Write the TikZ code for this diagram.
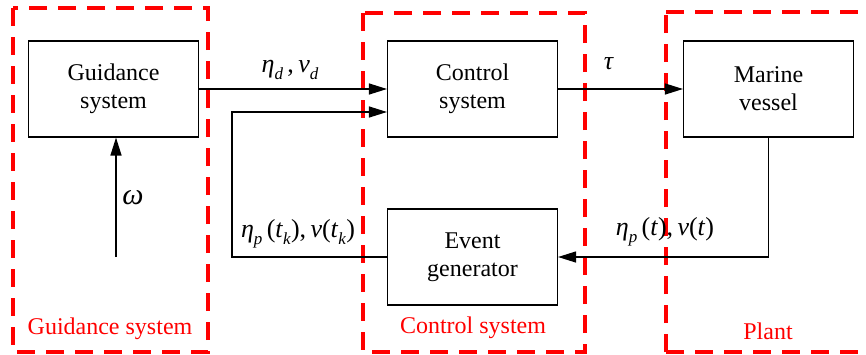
\documentclass[tikz,border=0pt]{standalone}
\usepackage{fontspec}
\setmainfont{Liberation Serif}
\newfontfamily\diagfont{Liberation Serif}
\usetikzlibrary{arrows.meta,calc}
\newcommand{\sym}[1]{\textit{#1}}
\newcommand{\sub}[1]{\raisebox{-0.28em}{\fontsize{17}{17}\selectfont\textit{#1}}}
\begin{document}
\begin{tikzpicture}[x=1pt,y=-1pt,
  block/.style={draw=black,line width=1.1pt,minimum width=170pt,minimum height=96pt,
    align=center,font=\diagfont\fontsize{24}{28}\selectfont,inner sep=0pt},
  group/.style={draw=red,line width=3.6pt,dash pattern=on 18pt off 11pt},
  grouplabel/.style={text=red,font=\diagfont\fontsize{24}{26}\selectfont,inner sep=0pt},
  sig/.style={font=\diagfont\fontsize{26}{28}\selectfont,inner sep=0pt},
  wire/.style={line width=1.3pt},
  arr/.style={wire,-{Triangle[length=18pt,width=11pt]}}]
\useasboundingbox (0,0) rectangle (866,354);
\fill[white] (0,0) rectangle (866,354);

% dashed subsystem frames
\draw[group] (13,8) rectangle (208,352);
\draw[group] (363,13) rectangle (585,352);
\draw[group] (666,12) -- (880,12);
\draw[group] (666,352) -- (666,12);
\draw[group] (666,352) -- (880,352);
\node[grouplabel] (lg) at (110,329) {Guidance system};
\node[grouplabel] (lc) at (473,328) {Control system};
\node[grouplabel] (lp) at (768,331) {Plant};

% blocks
\node[block] (guid) at (113.5,89) {Guidance\\system};
\node[block] (ctrl) at (472.5,89) {Control\\system};
\node[block] (evt) at (472.5,257) {Event\\generator};
\node[block] (mar) at (768.5,89) {Marine\\vessel};

% signal flow
\draw[arr] (guid.east) -- (ctrl.west);
\draw[arr] (ctrl.east) -- (mar.west);
\draw[arr] (mar.south) |- (evt.east);
\coordinate (fbb) at (232,257);
\coordinate (fbt) at (232,112);
\draw[arr] (evt.west) -- (fbb) -- (fbt) -- (fbt -| ctrl.west);
\coordinate (win) at (116,257);
\draw[arr] (win) -- (win |- guid.south);

% signal labels
\node[sig] (sd) at (290,70) {\sym{η}\sub{d}\,,\,\sym{ν}\sub{d}};
\node[sig] (st) at (609,64) {\sym{τ}};
\node[sig,font=\diagfont\fontsize{30}{30}\selectfont] (sw) at (133,198) {\sym{ω}};
\node[sig] (sk) at (298,234) {\sym{η}\sub{p}\,(\sym{t}\sub{k}),\,\sym{ν}(\sym{t}\sub{k})};
\node[sig] (sp) at (665,232) {\sym{η}\sub{p}\,(\sym{t}),\,\sym{ν}(\sym{t})};
\end{tikzpicture}
\end{document}
